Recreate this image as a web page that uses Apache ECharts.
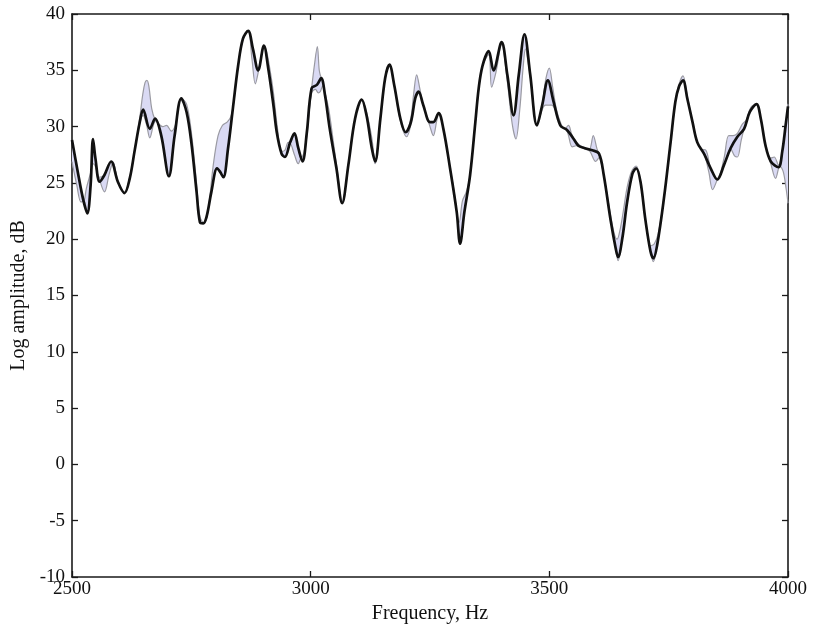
<!DOCTYPE html>
<html><head><meta charset="utf-8">
<script src="https://cdn.jsdelivr.net/npm/echarts@6/dist/echarts.min.js"></script>
<style>html,body{margin:0;padding:0;background:#fff}#c{width:815px;height:633px}</style>
</head><body><div id="c"></div>
<script>
// Black (thick) curve
const blackFreq = [2500,2512,2523,2532,2539,2544,2549,2558,2568,2582,2596,2610,2621,2631,2642,2649,2663,2674,2687,2703,2715,2729,2740,2750,2761,2768,2775,2782,2792,2804,2810,2817,2827,2837,2848,2858,2869,2879,2890,2902,2911,2922,2929,2939,2946,2957,2966,2974,2983,2992,3002,3013,3022,3030,3040,3054,3066,3079,3093,3107,3117,3128,3135,3146,3156,3165,3175,3188,3199,3210,3219,3226,3236,3250,3257,3268,3278,3292,3306,3313,3322,3334,3345,3352,3360,3373,3383,3400,3412,3425,3436,3448,3460,3474,3485,3497,3509,3523,3537,3551,3561,3573,3590,3604,3614,3628,3639,3644,3653,3663,3674,3682,3691,3701,3712,3718,3726,3740,3754,3764,3772,3780,3789,3800,3810,3824,3838,3852,3866,3880,3894,3908,3920,3934,3943,3953,3964,3980,3988,3995,4000];
const blackAmp = [28.8,26.0,23.6,22.3,24.8,28.9,27.2,25.1,25.7,26.9,25.1,24.1,25.4,27.8,30.4,31.5,29.8,30.7,29.2,25.6,29.2,32.5,31.3,28.6,24.2,21.5,21.4,22.0,24.2,26.3,26.0,25.5,28.1,31.6,35.4,37.8,38.5,36.9,35.0,37.2,35.2,31.9,29.5,27.6,27.3,28.6,29.4,28.1,26.9,29.5,33.4,33.7,34.3,32.8,29.8,26.3,23.2,26.6,30.7,32.4,31.0,28.1,26.9,30.7,34.3,35.5,33.7,30.7,29.5,30.4,32.5,33.1,31.9,30.4,30.4,31.2,29.8,26.3,22.4,19.6,22.4,25.7,30.4,33.4,35.4,36.7,35.0,37.5,34.6,31.0,34.6,38.2,34.6,30.1,31.9,34.1,32.2,30.1,29.7,28.9,28.3,28.1,27.9,27.6,25.7,21.8,19.2,18.4,20.1,23.3,25.8,26.3,25.1,21.8,18.9,18.3,19.5,23.6,28.6,32.2,33.6,34.1,32.5,30.4,28.6,27.6,26.3,25.3,26.6,28.1,29.1,29.8,31.3,32.0,30.7,28.3,26.9,26.4,27.8,30.1,31.8];

// Upper edge of the shaded band (thin grey)
const upperFreq = [2500,2512,2525,2530,2537,2541,2544,2549,2556,2568,2582,2587,2596,2610,2621,2631,2642,2648,2653,2657,2661,2667,2674,2680,2690,2698,2708,2717,2729,2740,2750,2760,2768,2777,2785,2796,2806,2815,2825,2832,2837,2848,2858,2869,2879,2890,2902,2908,2915,2922,2930,2939,2946,2953,2957,2966,2974,2980,2986,2992,3002,3008,3014,3018,3022,3030,3038,3047,3056,3063,3066,3079,3093,3107,3117,3128,3135,3146,3156,3165,3175,3188,3199,3210,3216,3222,3229,3236,3250,3257,3268,3278,3292,3300,3306,3311,3318,3326,3334,3345,3352,3360,3373,3383,3400,3412,3425,3436,3448,3460,3474,3485,3493,3500,3507,3515,3523,3532,3540,3547,3555,3565,3575,3584,3592,3600,3604,3614,3628,3636,3642,3648,3655,3663,3672,3682,3691,3701,3712,3720,3728,3740,3754,3764,3772,3780,3789,3800,3810,3818,3828,3838,3852,3866,3876,3885,3894,3904,3913,3922,3934,3943,3953,3964,3971,3980,3988,3995,4000];
const upperAmp = [28.8,26.0,23.4,24.5,25.6,26.3,28.9,27.2,25.5,25.7,26.9,26.8,25.2,24.1,25.5,27.8,30.8,32.8,33.9,34.1,33.6,31.6,30.6,30.3,30.0,30.1,29.6,30.2,32.5,32.0,29.5,25.4,22.0,21.4,22.5,26.6,29.2,30.1,30.4,30.8,31.6,35.4,37.8,38.5,36.9,35.0,37.2,36.6,35.0,33.0,30.0,27.8,27.9,28.6,28.6,29.4,28.1,27.2,27.7,29.5,33.4,35.5,37.1,35.0,34.3,33.0,31.5,28.8,26.0,23.7,23.3,26.6,30.7,32.4,31.3,29.0,26.9,30.7,34.3,35.5,33.7,30.7,29.5,30.8,33.0,34.6,33.3,31.9,30.4,30.4,31.2,29.8,26.3,24.4,22.4,21.5,23.4,24.2,25.7,30.4,33.4,35.4,36.7,35.0,37.5,34.6,31.0,34.6,38.2,34.6,30.1,32.0,34.3,35.2,33.5,31.5,30.4,29.8,30.1,29.3,28.7,28.3,28.1,28.0,29.2,28.0,27.6,25.7,22.2,20.5,20.0,20.8,22.5,24.6,26.0,26.5,25.1,21.8,19.4,19.6,20.5,23.6,28.6,32.2,33.8,34.5,32.7,30.4,28.6,28.0,27.9,26.3,25.3,27.2,29.2,29.2,29.4,30.2,30.6,31.7,32.0,30.7,28.3,27.2,27.3,26.6,27.8,30.1,32.0];

// Lower edge of the shaded band (thin grey)
const lowerFreq = [2500,2510,2519,2525,2532,2539,2541,2545,2556,2568,2578,2586,2596,2610,2621,2631,2642,2649,2656,2663,2671,2676,2687,2703,2715,2729,2740,2750,2761,2768,2775,2782,2792,2804,2810,2817,2827,2837,2848,2858,2869,2877,2884,2891,2902,2911,2922,2929,2939,2946,2953,2957,2966,2974,2980,2983,2992,3002,3010,3016,3020,3025,3030,3040,3054,3066,3079,3093,3107,3117,3128,3135,3146,3156,3165,3175,3188,3201,3210,3219,3226,3236,3250,3257,3264,3268,3278,3292,3306,3313,3322,3334,3345,3352,3360,3373,3379,3388,3400,3412,3422,3430,3438,3445,3450,3456,3462,3474,3485,3492,3505,3512,3523,3537,3548,3556,3565,3575,3585,3597,3605,3614,3628,3639,3644,3653,3663,3674,3682,3691,3701,3712,3718,3726,3740,3754,3764,3772,3780,3789,3800,3810,3824,3834,3842,3852,3866,3880,3888,3894,3902,3908,3920,3934,3943,3953,3964,3974,3983,3990,3996,4000];
const lowerAmp = [26.9,24.8,23.3,23.4,22.3,24.8,26.3,26.7,25.5,24.2,25.8,26.8,25.1,24.1,25.4,27.8,30.3,31.0,30.2,29.0,30.2,30.5,29.2,25.6,29.2,32.5,31.3,28.6,24.2,21.5,21.4,22.0,24.2,26.3,26.0,25.5,28.1,31.6,35.4,37.8,38.5,36.0,33.8,35.0,37.2,35.2,31.9,29.5,27.5,27.3,28.0,28.5,27.5,26.7,27.2,26.9,29.2,33.0,33.3,33.0,33.1,33.6,32.8,29.8,26.3,23.2,26.6,30.7,32.4,31.0,28.1,26.7,30.7,34.3,35.5,33.7,30.5,29.1,30.2,32.5,33.1,31.9,30.0,29.2,30.5,31.2,29.8,26.3,22.4,19.6,22.4,25.7,30.4,33.4,35.4,36.4,33.5,34.8,37.3,34.0,30.3,28.9,31.5,35.2,36.9,35.6,33.9,30.1,31.5,31.9,31.9,31.5,30.1,29.6,28.2,28.3,28.2,28.0,27.8,26.9,27.3,25.7,21.8,19.2,18.1,20.1,23.3,25.8,26.3,25.1,21.8,18.9,18.0,19.5,23.6,28.6,32.2,33.6,34.1,32.5,30.4,28.6,27.6,26.0,24.4,25.3,26.6,28.0,27.4,27.3,28.8,29.8,31.3,32.0,30.7,28.3,26.7,25.4,26.5,26.0,24.5,23.2];

const xMin = 2500, xMax = 4000, xStep = 500;
const yMin = -10, yMax = 40, yStep = 5;

const pairs = (xs, ys) => xs.map((x, i) => [x, ys[i]]);
const FONT = '"Liberation Serif", "Times New Roman", serif';
const frameColor = '#1a1a1a';

const chart = echarts.init(document.getElementById('c'), null, {renderer: 'canvas'});

const axisCommon = {
  type: 'value',
  axisLine: {show: true, onZero: false, lineStyle: {color: frameColor, width: 1.6}},
  axisTick: {show: true, inside: true, length: 6, lineStyle: {color: frameColor, width: 1.3}},
  splitLine: {show: false}
};
const plain = v => String(v);

chart.setOption({
  animation: false,
  backgroundColor: '#fff',
  grid: {left: 72, right: 27, top: 14, bottom: 56, containLabel: false},
  xAxis: [
    Object.assign({}, axisCommon, {
      min: xMin, max: xMax, interval: xStep, position: 'bottom',
      axisLabel: {fontFamily: FONT, fontSize: 19, color: '#111', margin: 3, formatter: plain},
      name: 'Frequency, Hz', nameLocation: 'middle', nameGap: 25,
      nameTextStyle: {fontFamily: FONT, fontSize: 20, color: '#111'}
    }),
    Object.assign({}, axisCommon, {
      min: xMin, max: xMax, interval: xStep, position: 'top',
      axisLabel: {show: false}
    })
  ],
  yAxis: [
    Object.assign({}, axisCommon, {
      min: yMin, max: yMax, interval: yStep, position: 'left',
      axisLabel: {fontFamily: FONT, fontSize: 19, color: '#111', margin: 7, formatter: plain},
      name: 'Log amplitude, dB', nameLocation: 'middle', nameGap: 38,
      nameTextStyle: {fontFamily: FONT, fontSize: 20, color: '#111'}
    }),
    Object.assign({}, axisCommon, {
      min: yMin, max: yMax, interval: yStep, position: 'right',
      axisLabel: {show: false}
    })
  ],
  series: [
    {
      type: 'custom',
      name: 'band',
      xAxisIndex: 0, yAxisIndex: 0,
      clip: true,
      silent: true,
      z: 1,
      data: [[xMin, yMin]],
      renderItem: function (params, api) {
        const pts = [];
        for (let i = 0; i < upperFreq.length; i++) pts.push(api.coord([upperFreq[i], upperAmp[i]]));
        for (let i = lowerFreq.length - 1; i >= 0; i--) pts.push(api.coord([lowerFreq[i], lowerAmp[i]]));
        return {
          type: 'polygon',
          shape: {points: pts, smooth: 0.35},
          style: {fill: '#dadaf4', stroke: null}
        };
      }
    },
    {
      type: 'line', name: 'upper', data: pairs(upperFreq, upperAmp),
      smooth: 0.35, showSymbol: false, z: 2, silent: true,
      lineStyle: {color: '#9a9aa2', width: 1.2}
    },
    {
      type: 'line', name: 'lower', data: pairs(lowerFreq, lowerAmp),
      smooth: 0.35, showSymbol: false, z: 2, silent: true,
      lineStyle: {color: '#9a9aa2', width: 1.2}
    },
    {
      type: 'line', name: 'black', data: pairs(blackFreq, blackAmp),
      smooth: 0.35, showSymbol: false, z: 3, silent: true,
      lineStyle: {color: '#111', width: 2.7}
    }
  ]
});
</script>
</body></html>
